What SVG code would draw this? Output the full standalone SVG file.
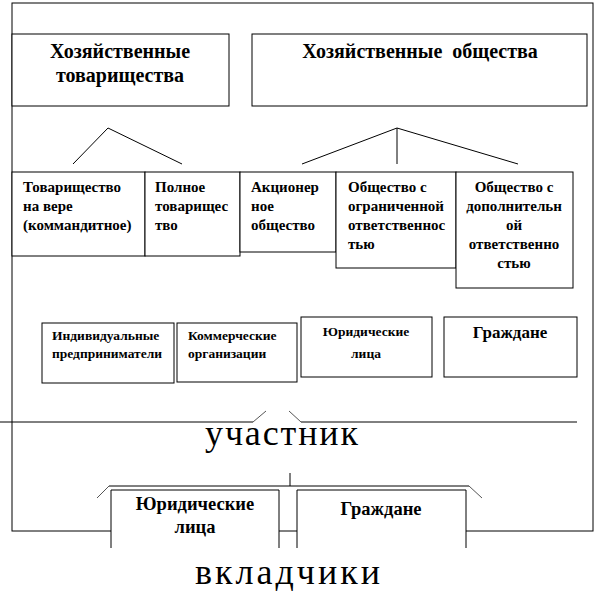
<svg xmlns="http://www.w3.org/2000/svg" width="597" height="601" viewBox="0 0 597 601">
<style>
.box{fill:#fff;stroke:#000;stroke-width:1}
.ln{fill:none;stroke:#000;stroke-width:1}
.thin{fill:none;stroke:#555;stroke-width:1}
.h{font-family:Liberation Serif;font-size:20px;font-weight:bold}
.s{font-family:Liberation Serif;font-size:15px;font-weight:bold}
.r{font-family:Liberation Serif;font-size:13.5px;font-weight:bold}
.m{font-family:Liberation Serif;font-size:17px;font-weight:bold}
.b{font-family:Liberation Serif;font-size:18.5px;font-weight:bold}
.big{font-family:Liberation Serif;font-size:36px}
</style>
<rect width="597" height="601" fill="#fff"/>
<g id="frame"><rect x="12" y="3" width="581" height="528" class="ln"/></g>
<g id="connectors">
<path class="ln" d="M73,164 L108,128 L182,164"/>
<path class="ln" d="M302,164 L397,128 L518,164 M397,128 V164"/>
<path class="ln" d="M0,422 H253 M301,422 H577"/>
<path class="thin" d="M253,422 L266,411 M289,411 L301,422"/>
<path class="ln" d="M290,473 V486 M109,486 H469"/>
<path class="thin" d="M109,486 L97,498 M469,486 L482,498"/>
</g>
<g id="n-tov"><rect class="box" x="12" y="34" width="217" height="72"/>
<text style="font-family:Liberation Serif" class="h" x="120" y="58" text-anchor="middle">Хозяйственные</text>
<text style="font-family:Liberation Serif" class="h" x="120" y="82" text-anchor="middle">товарищества</text></g>
<g id="n-obsh"><rect class="box" x="252" y="34" width="335" height="72"/>
<text style="font-family:Liberation Serif" class="h" x="420" y="58" text-anchor="middle" xml:space="preserve">Хозяйственные  общества</text></g>
<g id="n-kommand"><rect class="box" x="12" y="172" width="133" height="84"/>
<text style="font-family:Liberation Serif" class="s" x="23" y="192">Товарищество</text>
<text style="font-family:Liberation Serif" class="s" x="23" y="211">на вере</text>
<text style="font-family:Liberation Serif" class="s" x="23" y="230">(коммандитное)</text></g>
<g id="n-polnoe"><rect class="box" x="145" y="172" width="95" height="84"/>
<text style="font-family:Liberation Serif" class="s" x="155" y="192">Полное</text>
<text style="font-family:Liberation Serif" class="s" x="155" y="211">товарищес</text>
<text style="font-family:Liberation Serif" class="s" x="155" y="230">тво</text></g>
<g id="n-ao"><rect class="box" x="240" y="172" width="96" height="80"/>
<text style="font-family:Liberation Serif" class="s" x="251" y="192">Акционер</text>
<text style="font-family:Liberation Serif" class="s" x="251" y="211">ное</text>
<text style="font-family:Liberation Serif" class="s" x="251" y="230">общество</text></g>
<g id="n-ooo"><rect class="box" x="336" y="172" width="120" height="96"/>
<text style="font-family:Liberation Serif" class="s" x="348" y="192">Общество с</text>
<text style="font-family:Liberation Serif" class="s" x="348" y="211">ограниченной</text>
<text style="font-family:Liberation Serif" class="s" x="348" y="230">ответственнос</text>
<text style="font-family:Liberation Serif" class="s" x="348" y="249">тью</text></g>
<g id="n-odo"><rect class="box" x="456" y="172" width="117" height="116"/>
<text style="font-family:Liberation Serif" class="s" x="514" y="192" text-anchor="middle">Общество с</text>
<text style="font-family:Liberation Serif" class="s" x="514" y="211" text-anchor="middle">дополнительн</text>
<text style="font-family:Liberation Serif" class="s" x="514" y="230" text-anchor="middle">ой</text>
<text style="font-family:Liberation Serif" class="s" x="514" y="249" text-anchor="middle">ответственно</text>
<text style="font-family:Liberation Serif" class="s" x="514" y="268" text-anchor="middle">стью</text></g>
<g id="n-ip"><rect class="box" x="42" y="323" width="132" height="60"/>
<text style="font-family:Liberation Serif" class="r" x="52" y="340">Индивидуальные</text>
<text style="font-family:Liberation Serif" class="r" x="52" y="358">предприниматели</text></g>
<g id="n-ko"><rect class="box" x="177" y="323" width="120" height="59"/>
<text style="font-family:Liberation Serif" class="r" x="188" y="340">Коммерческие</text>
<text style="font-family:Liberation Serif" class="r" x="188" y="358">организации</text></g>
<g id="n-yul1"><rect class="box" x="301" y="317" width="131" height="60"/>
<text style="font-family:Liberation Serif" class="r" x="366" y="336" text-anchor="middle">Юридические</text>
<text style="font-family:Liberation Serif" class="r" x="366" y="358" text-anchor="middle">лица</text></g>
<g id="n-gr1"><rect class="box" x="444" y="317" width="133" height="60"/>
<text style="font-family:Liberation Serif" class="m" x="510" y="338" text-anchor="middle">Граждане</text></g>
<g id="l-uchastnik"><text style="font-family:Liberation Serif" class="big" x="205" y="445" textLength="153" lengthAdjust="spacing">участник</text></g>
<g id="n-yul2"><rect x="111" y="490" width="168" height="58" fill="#fff"/>
<path class="ln" d="M111,548 V490 H279 V548"/>
<text style="font-family:Liberation Serif" class="b" x="195" y="510" text-anchor="middle">Юридические</text>
<text style="font-family:Liberation Serif" class="b" x="195" y="533" text-anchor="middle">лица</text></g>
<g id="n-gr2"><rect x="297" y="490" width="169" height="58" fill="#fff"/>
<path class="ln" d="M297,548 V490 H466 V548"/>
<text style="font-family:Liberation Serif" class="b" x="381" y="515" text-anchor="middle">Граждане</text></g>
<g id="l-vkladchiki"><text style="font-family:Liberation Serif" class="big" x="195" y="584" textLength="185" lengthAdjust="spacing">вкладчики</text></g>
</svg>
